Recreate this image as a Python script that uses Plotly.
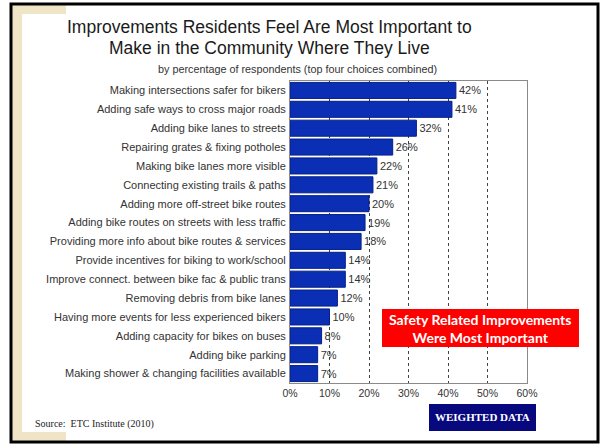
import plotly.graph_objects as go

W, H = 600, 445

categories = [
    'Making intersections safer for bikers',
    'Adding safe ways to cross major roads',
    'Adding bike lanes to streets',
    'Repairing grates & fixing potholes',
    'Making bike lanes more visible',
    'Connecting existing trails & paths',
    'Adding more off-street bike routes',
    'Adding bike routes on streets with less traffic',
    'Providing more info about bike routes & services',
    'Provide incentives for biking to work/school',
    'Improve connect. between bike fac & public trans',
    'Removing debris from bike lanes',
    'Having more events for less experienced bikers',
    'Adding capacity for bikes on buses',
    'Adding bike parking',
    'Making shower & changing facilities available',
]
values = [42, 41, 32, 26, 22, 21, 20, 19, 18, 14, 14, 12, 10, 8, 7, 7]
tick_vals = [0, 10, 20, 30, 40, 50, 60]
tick_text = ['0%', '10%', '20%', '30%', '40%', '50%', '60%']


def px(x):
    return x / W


def py(y):
    return 1 - y / H


fig = go.Figure()

fig.add_trace(
    go.Bar(
        x=values,
        y=categories,
        orientation='h',
        marker=dict(color='#0a2fb5', line=dict(color='#061f86', width=1)),
        text=[f'{v}%' for v in values],
        textposition='outside',
        textfont=dict(family='Arial, Liberation Sans', size=11, color='#333333'),
        cliponaxis=False,
        showlegend=False,
    )
)

shapes = [
    # slide frame and beige strips
    dict(type='rect', xref='paper', yref='paper', x0=px(12), x1=px(22), y0=py(441), y1=py(5),
         fillcolor='#efe4c6', line=dict(width=0), layer='below'),
    dict(type='rect', xref='paper', yref='paper', x0=px(12), x1=px(66), y0=py(14), y1=py(5),
         fillcolor='#efe4c6', line=dict(width=0), layer='below'),
    dict(type='rect', xref='paper', yref='paper', x0=px(12), x1=px(66), y0=py(441), y1=py(432),
         fillcolor='#efe4c6', line=dict(width=0), layer='below'),
    dict(type='rect', xref='paper', yref='paper', x0=px(11), x1=px(598), y0=py(442), y1=py(4),
         fillcolor='rgba(0,0,0,0)', line=dict(color='black', width=3), layer='below'),
    # callout boxes
    dict(type='rect', xref='paper', yref='paper', x0=px(382), x1=px(579), y0=py(347), y1=py(309),
         fillcolor='#ff0000', line=dict(width=0)),
    dict(type='rect', xref='paper', yref='paper', x0=px(429), x1=px(536), y0=py(431), y1=py(404),
         fillcolor='#08087e', line=dict(width=0)),
]

annotations = [
    dict(text='Improvements Residents Feel Are Most Important to', x=px(269), y=py(27),
         font=dict(family='Arial, Liberation Sans', size=17.5, color='#1a1a1a')),
    dict(text='Make in the Community Where They Live', x=px(269), y=py(48),
         font=dict(family='Arial, Liberation Sans', size=17.5, color='#1a1a1a')),
    dict(text='by percentage of respondents (top four choices combined)', x=px(297), y=py(69),
         font=dict(family='Arial, Liberation Sans', size=10.8, color='#333333')),
    dict(text='<b>Safety Related Improvements<br>Were Most Important</b>', x=px(480), y=py(328),
         font=dict(family='Lato', size=14, color='white')),
    dict(text='<b>WEIGHTED DATA</b>', x=px(482), y=py(417),
         font=dict(family='Liberation Serif, Times New Roman', size=11, color='white')),
    dict(text='Source:  ETC Institute (2010)', x=px(33), y=py(424), xanchor='left',
         font=dict(family='Liberation Serif, Times New Roman', size=10, color='#222222')),
]
for a in annotations:
    a.update(xref='paper', yref='paper', showarrow=False)
    a.setdefault('xanchor', 'center')
    a['yanchor'] = 'middle'

fig.update_layout(
    width=W,
    height=H,
    margin=dict(l=0, r=0, t=0, b=0),
    paper_bgcolor='white',
    plot_bgcolor='white',
    bargap=0.15,
    shapes=shapes,
    annotations=annotations,
    xaxis=dict(
        domain=[px(290), px(527)],
        range=[0, 60],
        tickvals=tick_vals,
        ticktext=tick_text,
        tickfont=dict(family='Arial, Liberation Sans', size=10.5, color='#333333'),
        showgrid=True,
        gridcolor='#444444',
        griddash='dot',
        gridwidth=1,
        showline=True,
        linecolor='#8a8a8a',
        linewidth=1,
        mirror=True,
        zeroline=False,
        ticks='',
        automargin=False,
    ),
    yaxis=dict(
        domain=[py(383), py(81)],
        autorange='reversed',
        tickfont=dict(family='Arial, Liberation Sans', size=11, color='#333333'),
        showline=True,
        linecolor='#8a8a8a',
        linewidth=1,
        mirror=True,
        ticks='',
        ticklabelstandoff=1,
        automargin=False,
    ),
)

# the page body has a default 8px margin; drop it so the figure sits at the window origin
fig.write_html(
    'out.html',
    config={'responsive': False, 'displayModeBar': False},
    post_script="document.body.style.margin='0';document.documentElement.style.overflow='hidden';",
)
